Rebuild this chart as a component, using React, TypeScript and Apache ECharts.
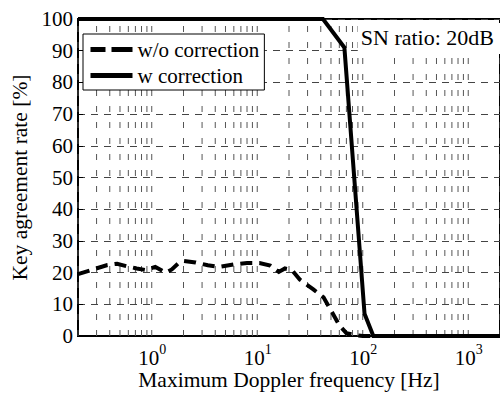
import React, { useEffect, useRef } from 'react';
import * as echarts from 'echarts';

const FONT = 'Liberation Serif';

const xMin = 0.2;
const xMax = 2000;
const yMin = 0;
const yMax = 100;
const yInterval = 10;

const xLabelValues = [1, 10, 100, 1000];
const xLabelExponents = ['0', '1', '2', '3'];
const xGridValues = [
  0.2, 0.3, 0.4, 0.5, 0.6, 0.7, 0.8, 0.9,
  1, 2, 3, 4, 5, 6, 7, 8, 9,
  10, 20, 30, 40, 50, 60, 70, 80, 90,
  100, 200, 300, 400, 500, 600, 700, 800, 900,
  1000, 2000,
];

const freqWithout = [0.2, 0.38, 0.47, 0.58, 0.72, 0.88, 1.08, 1.36, 1.55, 1.8, 2.0, 2.6, 3.4, 4.3, 6.0, 8.0, 10.5, 13.3, 16.0, 18.3, 21.3, 25.3, 34, 42.5, 50, 60, 70, 86, 100, 2000];
const rateWithout = [19.5, 22.4, 22.8, 22.0, 21.3, 20.8, 21.8, 20.0, 21.0, 23.0, 23.7, 23.2, 22.3, 21.8, 22.6, 23.0, 23.0, 22.2, 20.2, 21.3, 20.8, 17.8, 14.7, 12.2, 8.1, 3.4, 0.9, 0.3, 0, 0];

const freqWith = [0.2, 42, 67, 104, 126, 2000];
const rateWith = [100, 100, 91, 7, 0, 0];

const seriesNames = ['w/o correction', 'w correction'];
const annotation = 'SN ratio: 20dB';
const xName = 'Maximum Doppler frequency [Hz]';
const yName = 'Key agreement rate [%]';

export default function App() {
  const ref = useRef<HTMLDivElement>(null);
  useEffect(() => {
    if (!ref.current) return;
    const chart = echarts.init(ref.current, undefined, { renderer: 'svg' });
    const option: any = {
      animation: false,
      backgroundColor: '#fff',
      textStyle: { fontFamily: FONT, color: '#000' },
      title: {
        text: annotation,
        right: 0,
        top: 23,
        padding: [3, 6, 6, 3],
        backgroundColor: '#fff',
        textStyle: { fontFamily: FONT, fontSize: 22, fontWeight: 'normal', color: '#000' },
      },
      legend: {
        left: 83,
        top: 34,
        orient: 'vertical',
        data: [
          { name: seriesNames[0], lineStyle: { type: [15, 6, 21, 10], width: 5 } },
          { name: seriesNames[1], lineStyle: { width: 5 } },
        ],
        backgroundColor: '#fff',
        borderColor: '#000',
        borderWidth: 1,
        padding: [5, 5, 4, 5],
        itemWidth: 42,
        itemHeight: 14,
        itemGap: 5,
        itemStyle: { opacity: 0 },
        textStyle: { fontFamily: FONT, fontSize: 21, color: '#000' },
      },
      grid: {
        left: 78,
        top: 19,
        right: -6,
        bottom: 57,
        show: true,
        borderColor: '#000',
        borderWidth: 2,
        backgroundColor: 'transparent',
      },
      xAxis: {
        type: 'log',
        logBase: 10,
        min: xMin,
        max: xMax,
        name: xName,
        nameLocation: 'middle',
        nameGap: 33,
        nameTextStyle: { fontFamily: FONT, fontSize: 21.5, color: '#000' },
        axisLine: { show: true, lineStyle: { color: '#000', width: 2 } },
        axisTick: { show: false },
        axisLabel: { show: false },
        splitLine: { show: false },
        minorTick: { show: false },
        minorSplitLine: { show: false },
      },
      yAxis: {
        type: 'value',
        min: yMin,
        max: yMax,
        interval: yInterval,
        name: yName,
        nameLocation: 'middle',
        nameGap: 42,
        nameTextStyle: { fontFamily: FONT, fontSize: 21.5, color: '#000' },
        axisLine: { show: true, lineStyle: { color: '#000', width: 2 } },
        axisTick: { show: true, inside: true, length: 5, lineStyle: { color: '#000', width: 1 } },
        axisLabel: { fontFamily: FONT, fontSize: 21, color: '#000', margin: 5 },
        splitLine: { show: true, lineStyle: { color: '#444', width: 1, type: [7, 6] } },
      },
      series: [
        {
          type: 'custom',
          name: 'xgrid',
          z: 1,
          silent: true,
          clip: false,
          data: xGridValues.map((v) => [v, 0]),
          renderItem: (params: any, api: any) => {
            const v = api.value(0);
            const p0 = api.coord([v, yMin]);
            const p1 = api.coord([v, yMax]);
            return {
              type: 'line',
              shape: { x1: p0[0], y1: p0[1], x2: p1[0], y2: p1[1] },
              style: { stroke: '#555', lineWidth: 1, lineDash: [6, 10] },
            };
          },
        },
        {
          type: 'custom',
          name: 'xlabels',
          z: 5,
          silent: true,
          clip: false,
          data: xLabelValues.map((v) => [v, 0]),
          renderItem: (params: any, api: any) => {
            const v = api.value(0);
            const p = api.coord([v, yMin]);
            const exp = xLabelExponents[params.dataIndex];
            return {
              type: 'group',
              children: [
                {
                  type: 'text',
                  x: p[0] - 3,
                  y: p[1] + 22,
                  style: { text: '10', fontFamily: FONT, fontSize: 21, fill: '#000', align: 'center', verticalAlign: 'middle' },
                },
                {
                  type: 'text',
                  x: p[0] + 7.5,
                  y: p[1] + 13,
                  style: { text: exp, fontFamily: FONT, fontSize: 14, fill: '#000', align: 'left', verticalAlign: 'middle' },
                },
              ],
            };
          },
        },
        {
          type: 'line',
          name: seriesNames[0],
          z: 3,
          clip: false,
          symbol: 'none',
          showSymbol: false,
          data: freqWithout.map((f, i) => [f, rateWithout[i]]),
          lineStyle: { color: '#000', width: 4, type: [12, 7], cap: 'butt', join: 'miter' },
          itemStyle: { color: '#000' },
        },
        {
          type: 'line',
          name: seriesNames[1],
          z: 3,
          clip: false,
          symbol: 'none',
          showSymbol: false,
          data: freqWith.map((f, i) => [f, rateWith[i]]),
          lineStyle: { color: '#000', width: 4, type: 'solid', join: 'miter' },
          itemStyle: { color: '#000' },
        },
      ],
    };
    chart.setOption(option);
    return () => chart.dispose();
  }, []);
  return <div ref={ref} style={{ position: 'fixed', left: 0, top: 0, width: 500, height: 396 }} />;
}
